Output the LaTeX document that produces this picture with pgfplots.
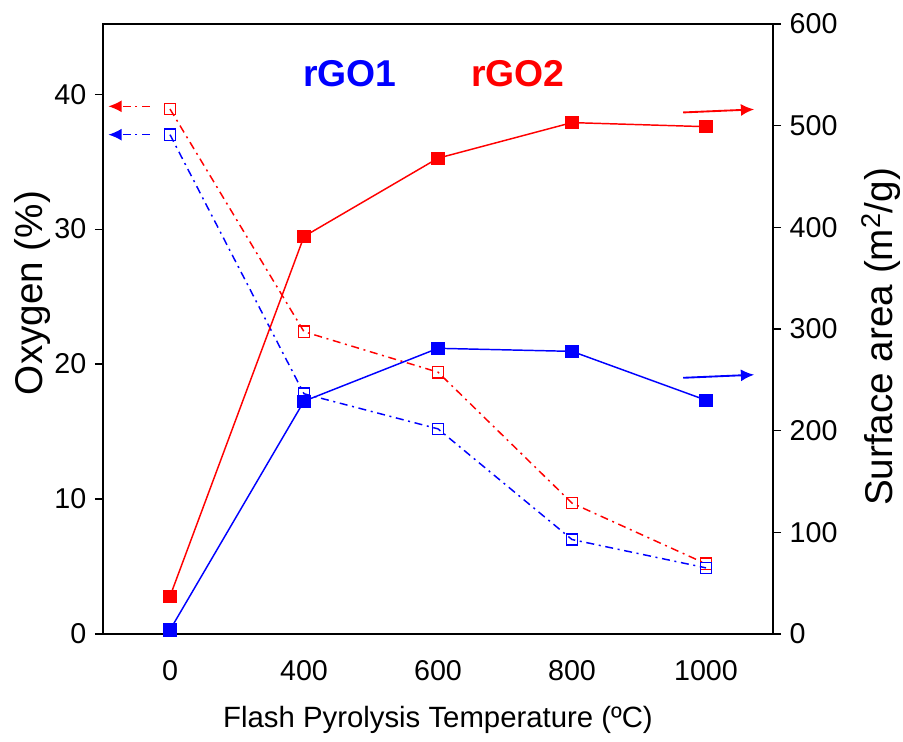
\documentclass[border=0pt]{standalone}
\usepackage{pgfplots}
\pgfplotsset{compat=1.18}
\usetikzlibrary{arrows.meta}
\usepackage{fontspec}
\setmainfont{Liberation Sans}
\definecolor{myred}{RGB}{255,0,0}
\definecolor{myblue}{RGB}{0,0,255}
\begin{document}
\begin{tikzpicture}
\pgfplotsset{
  common/.style={
    scale only axis, width=502.5pt, height=457.5pt,
    xmin=-0.5, xmax=4.5,
    /pgf/number format/assume math mode=true,
    ticklabel style={font=\fontsize{21.5}{24}\selectfont},
    tick align=outside, major tick length=6pt,
    tick style={black, line width=0.9pt},
    axis line style={line width=1.1pt},
  },
  ddot/.style={dash pattern=on 6pt off 3.5pt on 1.5pt off 3.5pt, line width=1.1pt},
}
\begin{axis}[common,
  ymin=0, ymax=45.2,
  ytick={0,10,20,30,40},
  ytick pos=left,
  xtick={0,1,2,3,4}, xticklabels={0,400,600,800,1000},
  xtick pos=bottom,
  x tick style={draw=none},
  xticklabel style={yshift=-10pt},
  yticklabel style={xshift=-3pt},
  xlabel={Flash Pyrolysis Temperature (ºC)},
  xlabel style={font=\fontsize{22}{24}\selectfont, at={(axis description cs:0.5,-0.141)}, anchor=center},
  ylabel={Oxygen (\%)},
  ylabel style={font=\fontsize{29}{32}\selectfont, at={(axis description cs:-0.0896,0.559)}, anchor=base},
]
% Oxygen rGO2
\addplot[myred, ddot, mark=square, mark size=4.2pt, mark options={solid, line width=1.1pt}] coordinates {
(0,38.9) (1,22.4) (2,19.4) (3,9.7) (4,5.2)};
% Oxygen rGO1
\addplot[myblue, ddot, mark=square, mark size=4.2pt, mark options={solid, line width=1.1pt}] coordinates {
(0,37.0) (1,17.8) (2,15.2) (3,7.0) (4,4.9)};
% left arrows
\addplot[myred, ddot, -{Latex[length=10pt,width=9pt]}] coordinates {(-0.15,39.1) (-0.46,39.1)};
\addplot[myblue, ddot, -{Latex[length=10pt,width=9pt]}] coordinates {(-0.15,37.0) (-0.46,37.0)};
\node[myblue, font=\fontsize{28}{30}\selectfont\bfseries] at (axis cs:1.343,41.5) {rGO1};
\node[myred, font=\fontsize{28}{30}\selectfont\bfseries] at (axis cs:2.597,41.5) {rGO2};
\end{axis}
\begin{axis}[common,
  ymin=0, ymax=600,
  ytick={0,100,...,600},
  axis y line*=right, axis x line=none,
  yticklabel style={xshift=3pt},
  ylabel={Surface area (m\textsuperscript{2}/g)},
  ylabel style={font=\fontsize{29}{32}\selectfont, at={(axis description cs:1.179,0.487)}, anchor=base},
]
\addplot[myred, line width=1.1pt, mark=square*, mark size=4.4pt] coordinates {
(0,37) (1,391) (2,468) (3,503) (4,499)};
\addplot[myblue, line width=1.1pt, mark=square*, mark size=4.4pt] coordinates {
(0,4) (1,229) (2,281) (3,278) (4,230)};
\addplot[myred, line width=1.4pt, -{Latex[length=10pt,width=9pt]}] coordinates {(3.83,513) (4.36,516)};
\addplot[myblue, line width=1.4pt, -{Latex[length=10pt,width=9pt]}] coordinates {(3.83,252) (4.36,255)};
\end{axis}
\pgfresetboundingbox
\useasboundingbox (current axis.south west) ++(-77.25pt,-81pt) rectangle ++(677.25pt,556.5pt);
\end{tikzpicture}
\end{document}
